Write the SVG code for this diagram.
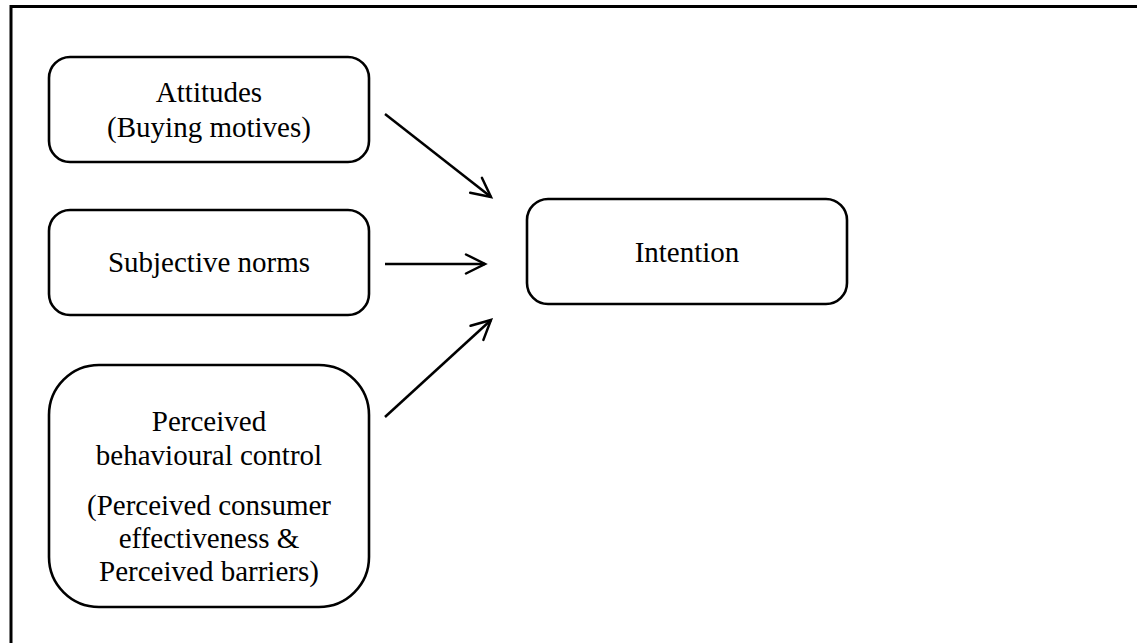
<svg xmlns="http://www.w3.org/2000/svg" width="1137" height="643" viewBox="0 0 1137 643">
<style>
.box{fill:#fff;stroke:#000;stroke-width:2.6}
.t{font-family:"Liberation Serif","Times New Roman",serif;font-size:29px;fill:#000;text-anchor:middle}
.c{stroke:#000;stroke-width:2.5;fill:none;marker-end:url(#ah)}
</style>
<defs>
<marker id="ah" markerUnits="userSpaceOnUse" markerWidth="40" markerHeight="40" refX="0" refY="0" orient="auto" overflow="visible" viewBox="-20 -20 40 40">
<path d="M -19 -9.5 L 0 0 L -19 9.5" fill="none" stroke="#000" stroke-width="2.5" stroke-linecap="round" stroke-linejoin="miter"/>
</marker>
</defs>
<rect width="1137" height="643" fill="#fff"/>
<path d="M 11 700 V 6.5 H 1200" fill="none" stroke="#000" stroke-width="3"/>
<g id="attitudes">
<rect class="box" x="49" y="57" width="320" height="105" rx="21"/>
<text class="t" x="209" y="102">Attitudes</text>
<text class="t" x="209" y="137">(Buying motives)</text>
</g>
<g id="subjective-norms">
<rect class="box" x="49" y="210" width="320" height="105" rx="21"/>
<text class="t" x="209" y="272">Subjective norms</text>
</g>
<g id="pbc">
<rect class="box" x="49" y="365" width="320" height="242" rx="50"/>
<text class="t" x="209" y="431">Perceived</text>
<text class="t" x="209" y="465">behavioural control</text>
<text class="t" x="209" y="515">(Perceived consumer</text>
<text class="t" x="209" y="548">effectiveness &amp;</text>
<text class="t" x="209" y="581">Perceived barriers)</text>
</g>
<g id="intention">
<rect class="box" x="527" y="199" width="320" height="105" rx="21"/>
<text class="t" x="687" y="262">Intention</text>
</g>
<g id="connectors">
<line class="c" x1="385" y1="114" x2="491" y2="197"/>
<line class="c" x1="385" y1="264" x2="485" y2="264"/>
<line class="c" x1="385" y1="417" x2="491" y2="320"/>
</g>
</svg>
